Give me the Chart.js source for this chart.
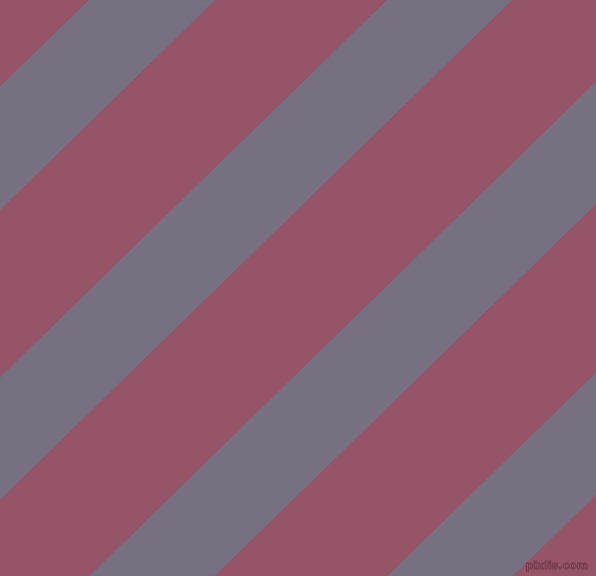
<!DOCTYPE html>
<html>
<head>
<meta charset="utf-8">
<script src="https://cdn.jsdelivr.net/npm/chart.js@4/dist/chart.umd.min.js"></script>
<style>
  html, body { margin: 0; padding: 0; background: #965468; }
  #wrap { width: 596px; height: 576px; }
</style>
</head>
<body>
<div id="wrap"><canvas id="graph1"></canvas></div>
<script>
// stripes: each gray band is x + slope*y between start and end (pixels of the picture)
const bandStart = [89, 387, 680, 978];
const bandEnd = [215, 512, 805, 1103];
const slope = 1.025;
const width = 596;
const height = 576;
const bgColor = "#965468";
const bandColor = "#767080";

var datasets = [];
for (var i = 0; i < bandStart.length; i++) {
  var a = bandStart[i];
  var b = bandEnd[i];
  datasets.push({
    label: "band " + (i + 1),
    data: [
      {x: a, y: 0},
      {x: b, y: 0},
      {x: b - slope * height, y: height},
      {x: a - slope * height, y: height},
      {x: a, y: 0}
    ],
    showLine: true,
    fill: "shape",
    backgroundColor: bandColor,
    borderColor: bandColor,
    borderWidth: 0.5,
    pointRadius: 0,
    tension: 0
  });
}

const watermark = {
  id: "watermark",
  afterDraw(chart) {
    const c = chart.ctx;
    c.save();
    c.font = "bold 11px 'DejaVu Sans'";
    c.textAlign = "right";
    c.textBaseline = "bottom";
    c.lineWidth = 1;
    c.strokeStyle = "rgba(90,40,60,0.55)";
    c.strokeText("pixlis.com", width - 8, height - 4);
    c.restore();
  }
};

const ctx = document.getElementById("graph1");
new Chart(ctx, {
  type: "scatter",
  data: { datasets: datasets },
  options: {
    responsive: true,
    maintainAspectRatio: false,
    animation: false,
    layout: { padding: 0 },
    plugins: {
      legend: { display: false },
      tooltip: { enabled: false },
      title: { display: false }
    },
    scales: {
      x: { type: "linear", min: 0, max: width, display: false },
      y: { type: "linear", min: 0, max: height, reverse: true, display: false }
    }
  },
  plugins: [watermark]
});
</script>
</body>
</html>
